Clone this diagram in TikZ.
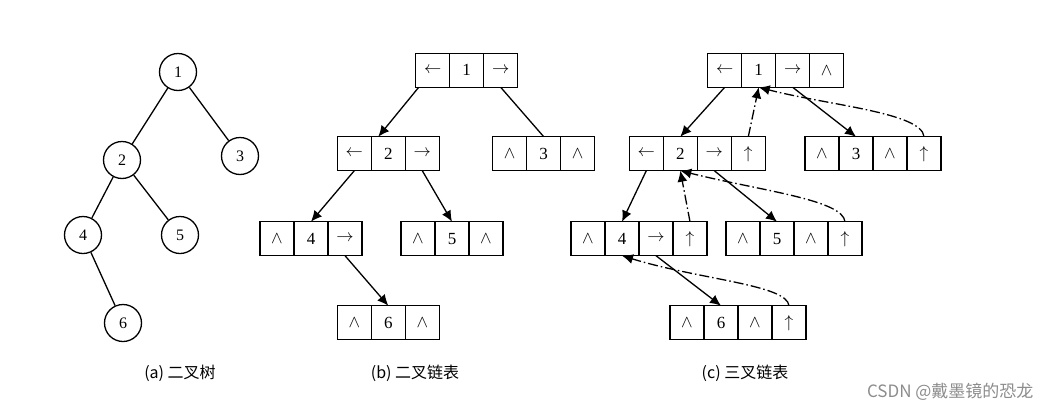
\documentclass[tikz,border=0pt]{standalone}
\usepackage{fontspec}
\setmainfont{Liberation Serif}
\newfontfamily\cjk{Noto Sans CJK SC}
\usetikzlibrary{arrows.meta}
\tikzset{>={Latex[length=11pt,width=10pt]}}
\tikzset{
    treenode/.style={circle, draw, line width=1.3pt, minimum size=37pt, inner sep=0pt, font=\fontsize{16}{16}\selectfont},
    listcell/.style={draw, line width=1.3pt, minimum size=34pt, inner sep=0pt, outer sep=0pt, font=\fontsize{17}{17}\selectfont},
    link/.style={line width=1.3pt},
    parent/.style={->, line width=1.3pt, dash pattern=on 10pt off 3pt on 1.5pt off 3pt},
    caption/.style={font=\cjk\fontsize{16}{16}\selectfont},
}
\newcommand{\lptr}{$\leftarrow$}
\newcommand{\rptr}{$\rightarrow$}
\newcommand{\nilptr}{$\wedge$}
\newcommand{\upptr}{$\uparrow$}
\newcommand{\listrow}[3]{% {name}{centre of first cell}{cell texts}
    \foreach \txt [count=\k] in {#3}
        \node[listcell, xshift={(\k-1)*34pt}] (#1-\k) at (#2) {\txt}; % cells #1-1, #1-2, ...
}

\begin{document}
\begin{tikzpicture}[x=1pt, y=1pt]
    \useasboundingbox (0,0) rectangle (1050,-410);

    % (a) binary tree
    \node[treenode] (a1) at (178,-72) {1};
    \node[treenode] (a2) at (122,-160) {2};
    \node[treenode] (a3) at (240,-156) {3};
    \node[treenode] (a4) at (83,-235) {4};
    \node[treenode] (a5) at (180,-235) {5};
    \node[treenode] (a6) at (123,-323) {6};
    \draw[link] (a1) -- (a2);
    \draw[link] (a1) -- (a3);
    \draw[link] (a2) -- (a4);
    \draw[link] (a2) -- (a5);
    \draw[link] (a4) -- (a6);

    % (b) binary linked list
    \listrow{b1}{432.7,-70.3}{\lptr, 1, \rptr}
    \listrow{b2}{354.3,-153.7}{\lptr, 2, \rptr}
    \listrow{b3}{509.7,-153.7}{\nilptr, 3, \nilptr}
    \listrow{b4}{277,-238.7}{\nilptr, 4, \rptr}
    \listrow{b5}{418,-238.7}{\nilptr, 5, \nilptr}
    \listrow{b6}{354.3,-322.7}{\nilptr, 6, \nilptr}
    \draw[link, ->] ([xshift=3pt]b1-1.south west) -- ([xshift=7pt]b2-2.north west);
    \draw[link] (b1-3.south) -- (b3-2.north);
    \draw[link, ->] (b2-1.south) -- (b4-2.north);
    \draw[link, ->] (b2-3.south) -- (b5-2.north);
    \draw[link, ->] (b4-3.south) -- (b6-2.north);

    % (c) trident linked list
    \listrow{c1}{724.7,-70.3}{\lptr, 1, \rptr, \nilptr}
    \listrow{c2}{646.3,-153.7}{\lptr, 2, \rptr, \upptr}
    \listrow{c3}{822,-153.7}{\nilptr, 3, \nilptr, \upptr}
    \listrow{c4}{588,-238.7}{\nilptr, 4, \rptr, \upptr}
    \listrow{c5}{743,-238.7}{\nilptr, 5, \nilptr, \upptr}
    \listrow{c6}{687,-322.7}{\nilptr, 6, \nilptr, \upptr}
    \draw[link, ->] (c1-1.south) -- (c2-2.north);
    \draw[link, ->] (c1-3.south) -- (c3-2.north);
    \draw[link, ->] (c2-1.south) -- (c4-2.north);
    \draw[link, ->] (c2-3.south) -- (c5-2.north);
    \draw[link, ->] (c4-3.south) -- (c6-2.north);
    % parent pointers
    \draw[parent] (c2-4.north) -- (c1-2.south);
    \draw[parent] (c3-4.north) .. controls ++(-2,24) and ++(70,-18) .. (c1-2.south);
    \draw[parent] (c4-4.north) -- (c2-2.south);
    \draw[parent] (c5-4.north) .. controls ++(-2,22) and ++(80,-20) .. (c2-2.south);
    \draw[parent] (c6-4.north) .. controls ++(-2,21) and ++(78,-24) .. (c4-2.south);

    % captions
    \node[caption] (capa) at (180,-373) {(a) 二叉树};
    \node[caption] (capb) at (415,-373) {(b) 二叉链表};
    \node[caption] (capc) at (745,-373) {(c) 三叉链表};
    \node[caption, font=\cjk\fontsize{17}{17}\selectfont, text=black!45, anchor=east] (mark) at (1037,-392) {CSDN @戴墨镜的恐龙};
\end{tikzpicture}
\end{document}
